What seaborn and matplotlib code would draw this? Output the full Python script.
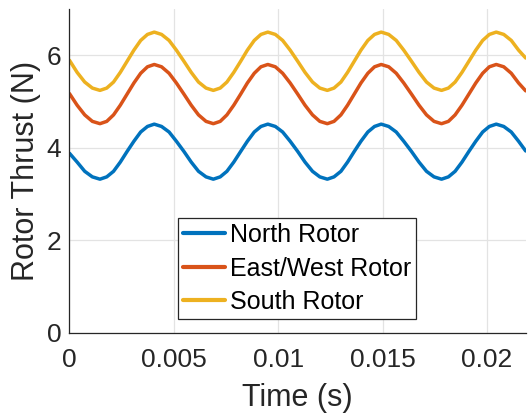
import numpy as np
import pandas as pd
import seaborn as sns
import matplotlib.pyplot as plt
import matplotlib.ticker as ticker

# time samples (s), denser around each half-wave
time_s = [0, 0.000365, 0.00073, 0.001095, 0.00146,
          0.001785, 0.00211, 0.002435, 0.00276, 0.003085, 0.00341, 0.003735, 0.00406,
          0.00441, 0.00477, 0.00512, 0.00548, 0.00583, 0.00618, 0.00654, 0.00689,
          0.00722, 0.00754, 0.00787, 0.0082, 0.00852, 0.00885, 0.00917, 0.0095,
          0.00986, 0.01021, 0.01057, 0.01093, 0.01128, 0.01164, 0.01199, 0.01235,
          0.01267, 0.013, 0.01332, 0.01364, 0.01396, 0.01429, 0.01461, 0.01493,
          0.01529, 0.01565, 0.01601, 0.01638, 0.01674, 0.0171, 0.01746, 0.01782,
          0.01815, 0.01847, 0.0188, 0.01913, 0.01946, 0.01979, 0.02011, 0.02044,
          0.0208, 0.02116, 0.02151, 0.02185]

north = [3.88, 3.69, 3.49, 3.37, 3.32,
         3.37, 3.49, 3.69, 3.92, 4.14, 4.34, 4.46, 4.51,
         4.46, 4.34, 4.14, 3.92, 3.69, 3.49, 3.37, 3.32,
         3.37, 3.49, 3.69, 3.92, 4.14, 4.34, 4.46, 4.51,
         4.46, 4.34, 4.14, 3.92, 3.69, 3.49, 3.37, 3.32,
         3.37, 3.49, 3.69, 3.92, 4.14, 4.34, 4.46, 4.51,
         4.46, 4.34, 4.14, 3.92, 3.69, 3.49, 3.37, 3.32,
         3.37, 3.49, 3.69, 3.92, 4.14, 4.34, 4.46, 4.51,
         4.46, 4.34, 4.14, 3.93]

east_west = [5.17, 4.92, 4.71, 4.57, 4.52,
             4.57, 4.71, 4.92, 5.16, 5.40, 5.61, 5.75, 5.80,
             5.75, 5.61, 5.40, 5.16, 4.92, 4.71, 4.57, 4.52,
             4.57, 4.71, 4.92, 5.16, 5.40, 5.61, 5.75, 5.80,
             5.75, 5.61, 5.40, 5.16, 4.92, 4.71, 4.57, 4.52,
             4.57, 4.71, 4.92, 5.16, 5.40, 5.61, 5.75, 5.80,
             5.75, 5.61, 5.40, 5.16, 4.92, 4.71, 4.57, 4.52,
             4.57, 4.71, 4.92, 5.16, 5.40, 5.61, 5.75, 5.80,
             5.75, 5.61, 5.40, 5.23]

south = [5.89, 5.63, 5.42, 5.29, 5.24,
         5.29, 5.42, 5.63, 5.87, 6.11, 6.32, 6.45, 6.50,
         6.45, 6.32, 6.11, 5.87, 5.63, 5.42, 5.29, 5.24,
         5.29, 5.42, 5.63, 5.87, 6.11, 6.32, 6.45, 6.50,
         6.45, 6.32, 6.11, 5.87, 5.63, 5.42, 5.29, 5.24,
         5.29, 5.42, 5.63, 5.87, 6.11, 6.32, 6.45, 6.50,
         6.45, 6.32, 6.11, 5.87, 5.63, 5.42, 5.29, 5.24,
         5.29, 5.42, 5.63, 5.87, 6.11, 6.32, 6.45, 6.50,
         6.45, 6.32, 6.11, 5.94]

series_names = ["North Rotor", "East/West Rotor", "South Rotor"]
x_ticks = [0, 0.005, 0.01, 0.015, 0.02]
x_tick_labels = ["0", "0.005", "0.01", "0.015", "0.02"]
y_ticks = [0, 2, 4, 6]

colors = ["#0072BD", "#D95319", "#EDB120"]

df = pd.concat([
    pd.DataFrame({"t": time_s, "thrust": vals, "Rotor": name})
    for name, vals in zip(series_names, [north, east_west, south])
], ignore_index=True)

sns.set_style("white")
plt.rcParams['font.family'] = ['Liberation Sans', 'DejaVu Sans']

fig = plt.figure(figsize=(5.28, 4.16), dpi=100)
ax = fig.add_axes([0.1316, 0.2002, 0.864, 0.7782])

g = sns.lineplot(data=df, x="t", y="thrust", hue="Rotor", hue_order=series_names,
                 palette=colors, linewidth=2.5, ax=ax)

ax.set_xlim(0, 0.02185)
ax.set_ylim(0, 7)
ax.xaxis.set_major_locator(ticker.FixedLocator(x_ticks))
ax.xaxis.set_major_formatter(ticker.FixedFormatter(x_tick_labels))
ax.yaxis.set_major_locator(ticker.FixedLocator(y_ticks))

ax.grid(True, color="#e3e3e3", linewidth=0.9)
ax.set_axisbelow(True)
for side in ["top", "right"]:
    ax.spines[side].set_visible(False)
for side in ["left", "bottom"]:
    ax.spines[side].set_color("#262626")
    ax.spines[side].set_linewidth(0.9)

ax.tick_params(axis="both", direction="in", length=4, width=0.8, color="#262626",
               labelsize=19, labelcolor="#262626")
ax.tick_params(axis="x", pad=11)
ax.tick_params(axis="y", pad=6)

ax.set_xlabel("Time (s)", fontsize=22, color="#262626", labelpad=8)
ax.set_ylabel("Rotor Thrust (N)", fontsize=22, color="#262626", labelpad=4)

leg = ax.legend(loc="lower left", bbox_to_anchor=(0.2385, 0.0423), borderaxespad=0,
                fontsize=18, frameon=True, fancybox=False, framealpha=1,
                edgecolor="#262626", handlelength=1.65, handletextpad=0.2,
                borderpad=0.2, labelspacing=0.38, labelcolor="black")
leg.get_frame().set_linewidth(0.9)
for line in leg.get_lines():
    line.set_linewidth(3)

plt.savefig("out.png", dpi=100)
